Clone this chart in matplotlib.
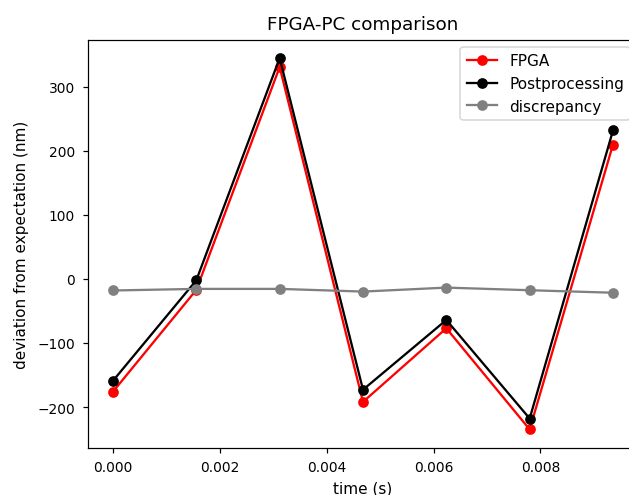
import matplotlib
matplotlib.use("Agg")
import matplotlib.pyplot as plt

time_s = [0.0, 0.00156, 0.00312, 0.00468, 0.00624, 0.00780, 0.00936]
fpga = [-176, -17, 331, -192, -77, -235, 210]
postprocessing = [-159, -2, 345, -173, -64, -218, 232]
discrepancy = [-18, -15.5, -15.5, -19.7, -13.5, -17.6, -21.5]

DPI = 110
fig = plt.figure(figsize=(629/DPI, 496/DPI), dpi=DPI)
ax = fig.add_axes([88/629, 47/496, 550/629, 408.5/496])
ax.plot(time_s, fpga, 'o-', color='red', label='FPGA')
ax.plot(time_s, postprocessing, 'o-', color='black', label='Postprocessing')
ax.plot(time_s, discrepancy, 'o-', color='grey', label='discrepancy')
ax.set_title('FPGA-PC comparison', fontsize=12, pad=7)
ax.set_xlabel('time (s)', fontsize=10)
ax.set_ylabel('deviation from expectation (nm)', fontsize=10, labelpad=5.5)
ax.tick_params(labelsize=9)
ax.tick_params(axis='y', pad=5)
ax.tick_params(axis='x', pad=4.5)
ax.legend(loc='upper right', fontsize=10)
fig.savefig('out.png', dpi=DPI)
